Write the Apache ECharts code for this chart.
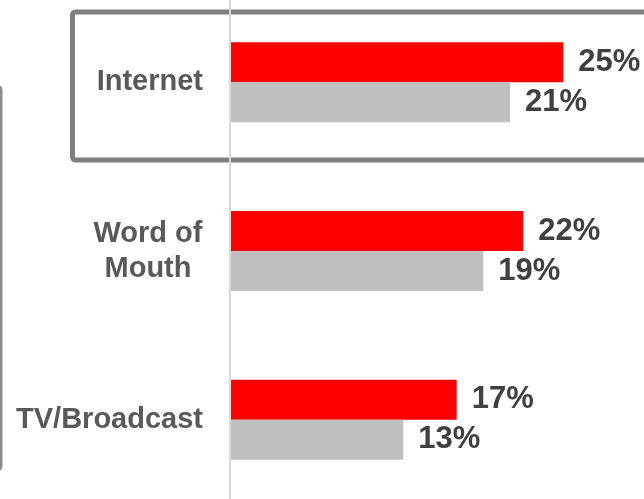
<!DOCTYPE html>
<html>
<head>
<meta charset="utf-8">
<script src="https://cdn.jsdelivr.net/npm/echarts@6/dist/echarts.min.js"></script>
<style>
  html, body { margin: 0; padding: 0; background: #ffffff; }
  #chart { width: 644px; height: 499px; }
</style>
</head>
<body>
<div id="chart"></div>
<script>
// Source channels, top to bottom
const categories = ['Internet', 'Word of\nMouth', 'TV/Broadcast'];
// Share per channel (%), current period (red) and comparison period (grey)
const currentValues = [25, 22, 17];
const previousValues = [21, 19, 13];

const FONT = '"Liberation Sans", Arial, Helvetica, sans-serif';

const valueLabel = {
  show: true,
  position: 'right',
  distance: 15,
  formatter: '{c}%',
  color: '#404040',
  fontFamily: FONT,
  fontWeight: 'bold',
  fontSize: 31
};

const chart = echarts.init(document.getElementById('chart'), null, { renderer: 'canvas' });

chart.setOption({
  animation: false,
  backgroundColor: '#ffffff',
  grid: {
    left: 230, width: 400, top: -2, height: 506,
    containLabel: false,
    outerBoundsMode: 'none'
  },
  xAxis: {
    type: 'value',
    min: 0,
    max: 30,
    show: false
  },
  yAxis: {
    type: 'category',
    data: categories,
    inverse: true,
    z: 3,
    axisLine: { show: true, lineStyle: { color: '#d9d9d9', width: 2 } },
    axisTick: { show: false },
    splitLine: { show: false },
    axisLabel: {
      margin: 27,
      color: '#595959',
      fontFamily: FONT,
      fontWeight: 'bold',
      fontSize: 29,
      lineHeight: 35,
      formatter: function (name) {
        if (name.indexOf('\n') < 0) return name;
        return name.split('\n').map(function (line) { return '{c|' + line + '}'; }).join('\n');
      },
      rich: {
        c: {
          width: 110,
          align: 'center',
          color: '#595959',
          fontFamily: FONT,
          fontWeight: 'bold',
          fontSize: 29,
          lineHeight: 35
        }
      }
    }
  },
  graphic: [
    {
      // highlight frame around the top channel
      type: 'rect',
      z: -1,
      shape: { x: 72.5, y: 12, width: 620, height: 148, r: 3 },
      style: { fill: 'none', stroke: '#7f7f7f', lineWidth: 5 }
    },
    {
      // edge of the neighbouring panel on the left
      type: 'rect',
      z: -1,
      shape: { x: -200, y: 86, width: 201, height: 384, r: 4 },
      style: { fill: 'none', stroke: '#8c8c8c', lineWidth: 3 }
    }
  ],
  series: [
    {
      type: 'bar',
      data: currentValues,
      barWidth: 40,
      barGap: '0%',
      itemStyle: { color: '#ff0000' },
      label: valueLabel
    },
    {
      type: 'bar',
      data: previousValues,
      barWidth: 40,
      barGap: '0%',
      itemStyle: { color: '#bfbfbf' },
      label: valueLabel
    }
  ]
});
</script>
</body>
</html>
